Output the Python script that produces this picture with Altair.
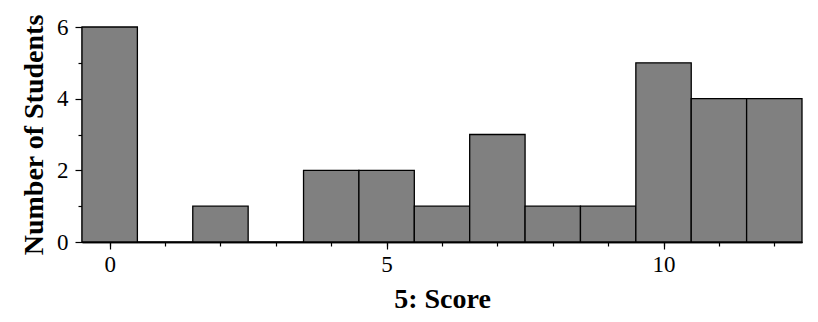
import altair as alt
import pandas as pd

scores = list(range(13))
counts = [6, 0, 1, 0, 2, 2, 1, 3, 1, 1, 5, 4, 4]
x_major = [0, 5, 10]
x_minor = list(range(13))
y_major = [0, 2, 4, 6]
y_minor = [1, 3, 5]

df = pd.DataFrame({"score": scores, "count": counts})
df["start"] = df["score"] - 0.5
df["end"] = df["score"] + 0.5

FONT = "Liberation Serif"
xscale = alt.Scale(domain=[-0.5, 12.5], nice=False, zero=False)
yscale = alt.Scale(domain=[0, 6], nice=False)

common = dict(grid=False, domainColor="black", tickColor="black", domainWidth=1.5,
              tickWidth=1.2, labelFont=FONT, labelFontSize=23, labelColor="black",
              titleFont=FONT, titleFontSize=28, titleFontWeight="bold", titleColor="black")

bars = alt.Chart(df).mark_bar(color="#808080", stroke="black", strokeWidth=1.3).encode(
    x=alt.X("start:Q", scale=xscale,
            axis=alt.Axis(values=x_minor, tickSize=4, labels=False, title=None,
                          orient="bottom", **common)),
    x2="end:Q",
    y=alt.Y("count:Q", scale=yscale,
            axis=alt.Axis(values=y_minor, tickSize=4, labels=False, title=None,
                          orient="left", **common)),
    y2=alt.datum(0),
)

major = alt.Chart(df).mark_point(opacity=0).encode(
    x=alt.X("score:Q", scale=xscale,
            axis=alt.Axis(values=x_major, tickSize=7, title="5: Score", orient="bottom",
                          labelPadding=4, titlePadding=9, **common)),
    y=alt.Y("count:Q", scale=yscale,
            axis=alt.Axis(values=y_major, tickSize=7, title="Number of Students",
                          orient="left", labelPadding=7, titlePadding=8, **common)),
)

chart = alt.layer(bars, major).resolve_axis(x="independent", y="independent").properties(
    width=720, height=215,
    autosize=alt.AutoSizeParams(type="none"),
    padding={"left": 82, "top": 27, "right": 16, "bottom": 80},
    background="white",
).configure_view(stroke=None)

chart.save("out.html", embed_options={"renderer": "svg", "actions": False})
